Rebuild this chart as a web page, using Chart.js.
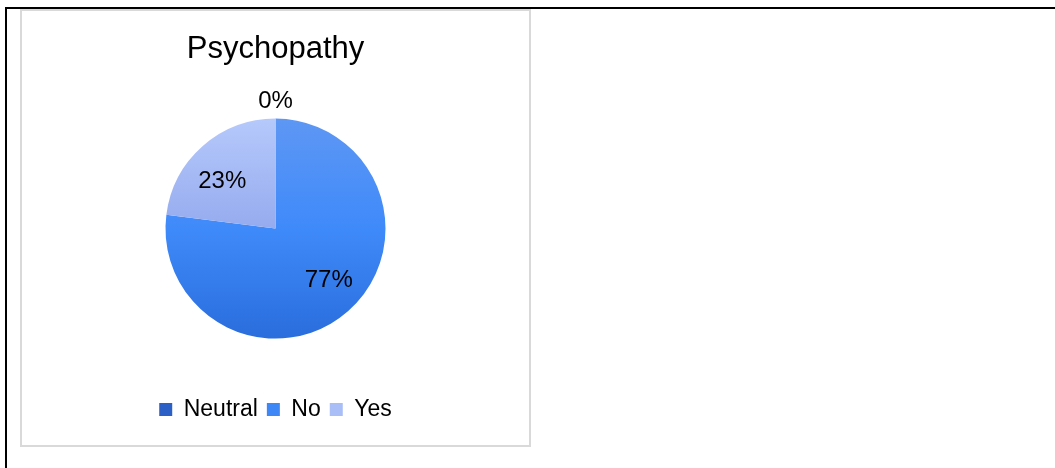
<!DOCTYPE html>
<html>
<head>
<meta charset="utf-8">
<script src="https://cdn.jsdelivr.net/npm/chart.js@4"></script>
<style>
  html, body { margin: 0; padding: 0; background: #fff; }
  body { width: 1055px; height: 468px; position: relative; overflow: hidden; }
  .topline { position: absolute; left: 5px; top: 7px; width: 1050px; height: 2px; background: #000; }
  .leftline { position: absolute; left: 5px; top: 7px; width: 2px; height: 461px; background: #000; }
  .box { position: absolute; left: 20px; top: 9px; width: 511px; height: 438px;
         border: 2px solid #d9d9d9; box-sizing: border-box; background: #fff; }
  .wrap { position: relative; width: 507px; height: 434px; }
</style>
</head>
<body>
<div class="topline"></div>
<div class="leftline"></div>
<div class="box"><div class="wrap"><canvas id="myChart"></canvas></div></div>
<script>
document.addEventListener('DOMContentLoaded', () => {

    // values
    const categories = ['Neutral', 'No', 'Yes']
    const values = [0, 77, 23]

    // gradient stops per slice (top, middle, bottom of the pie)
    const sliceStops = [
        ['#3a6fd2', '#2d60c6', '#2552ad'],
        ['#5e97f4', '#3f8afa', '#2a6ddd'],
        ['#b6c9fc', '#95abee', '#7f96e0']
    ]
    const legendColors = ['#2d60c6', '#3d87f7', '#a9bdf7']
    const pieRadius = 110
    const fontFamily = '"Liberation Sans", Arial, sans-serif'

    const sliceFill = (context) => {
        const stops = sliceStops[context.dataIndex]
        const area = context.chart.chartArea
        if (!area) return stops[1]
        const cy = (area.top + area.bottom) / 2
        const g = context.chart.ctx.createLinearGradient(0, cy - pieRadius, 0, cy + pieRadius)
        g.addColorStop(0, stops[0])
        g.addColorStop(0.5, stops[1])
        g.addColorStop(1, stops[2])
        return g
    }

    // percent labels, inside the slice or just outside when the slice is empty
    const pieLabels = {
        id: 'pieLabels',
        afterDatasetsDraw(chart) {
            const ctx = chart.ctx
            const meta = chart.getDatasetMeta(0)
            const total = values.reduce((a, b) => a + b, 0)
            ctx.save()
            ctx.font = '24px ' + fontFamily
            ctx.fillStyle = '#000'
            ctx.textAlign = 'center'
            ctx.textBaseline = 'middle'
            meta.data.forEach((arc, i) => {
                const p = arc.getProps(['x', 'y', 'startAngle', 'endAngle', 'outerRadius'], true)
                let mid = (p.startAngle + p.endAngle) / 2
                let r = p.outerRadius + 19
                if (values[i] !== 0) {
                    // excel sits the label a bit back from the mid angle
                    mid -= 0.1
                    r = p.outerRadius * 0.66
                }
                const txt = Math.round(values[i] / total * 100) + '%'
                ctx.fillText(txt, p.x + Math.cos(mid) * r, p.y + Math.sin(mid) * r + 2)
            })
            ctx.restore()
        }
    }

    const ctx = document.getElementById('myChart')

    new Chart(ctx, {
        type: 'pie',
        data: {
            labels: categories,
            datasets: [{
                data: values,
                backgroundColor: sliceFill,
                borderWidth: 0,
                radius: pieRadius
            }]
        },
        options: {
            responsive: true,
            maintainAspectRatio: false,
            animation: false,
            layout: { padding: { bottom: 14 } },
            plugins: {
                title: {
                    display: true,
                    text: 'Psychopathy',
                    color: '#000',
                    font: { family: fontFamily, size: 31, weight: 'normal' },
                    padding: { top: 20, bottom: 0 }
                },
                legend: {
                    position: 'bottom',
                    labels: {
                        color: '#000',
                        boxWidth: 13,
                        boxHeight: 13,
                        padding: 9,
                        font: { family: fontFamily, size: 23 },
                        generateLabels: (chart) => categories.map((c, i) => ({
                            text: c,
                            fillStyle: legendColors[i],
                            strokeStyle: legendColors[i],
                            lineWidth: 0,
                            hidden: false,
                            index: i
                        }))
                    }
                },
                tooltip: { enabled: false }
            }
        },
        plugins: [pieLabels]
    })
})
</script>
</body>
</html>
